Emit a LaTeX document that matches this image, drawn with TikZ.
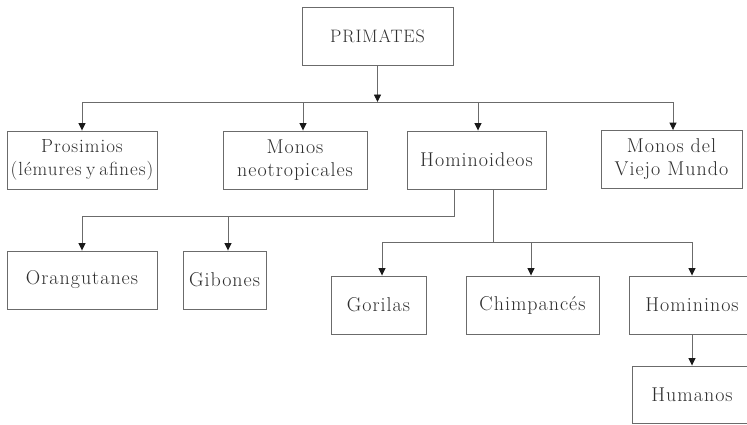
\documentclass[tikz,border=0pt]{standalone}
\usepackage{fontspec}
\setmainfont{Latin Modern Roman}[LetterSpace=5]
\usetikzlibrary{arrows.meta}
\definecolor{linec}{gray}{0.42}
\definecolor{textc}{gray}{0.18}
\definecolor{tipc}{gray}{0.1}
\begin{document}
\begin{tikzpicture}[x=1pt,y=-1pt,
  box/.style={draw=linec, line width=0.9pt, rectangle, inner sep=0pt, align=center,
    text=textc, minimum height=58pt, font=\fontsize{20}{23}\selectfont},
  conn/.style={draw=linec, line width=0.9pt},
  arr/.style={conn, -{Triangle[length=7.5pt,width=7pt,color=tipc]}}]
\useasboundingbox (0,0) rectangle (747,424);
\clip (0,0) rectangle (747,424);
\fill[white] (0,0) rectangle (747,424);

\node[box, minimum width=151pt, font=\fontsize{18}{21}\selectfont] (pri) at (377.5,36) {PRIMATES};
\node[box, minimum width=150pt, font=\fontsize{19}{23}\selectfont] (pro) at (82,160) {Prosimios\\(lémures\hspace{4.5pt}y\hspace{4pt}afines)};
\node[box, minimum width=144pt] (neo) at (295,160) {Monos\\neotropicales};
\node[box, minimum width=139pt] (hom) at (476.5,160) {Hominoideos};
\node[box, minimum width=141pt] (vie) at (671.5,159.5) {Monos del\\Viejo Mundo};
\node[box, minimum width=150pt] (ora) at (82,280) {Orangutanes};
\node[box, minimum width=83pt] (gib) at (224.5,280) {Gibones};
\node[box, minimum width=95pt] (gor) at (378.5,305) {Gorilas};
\node[box, minimum width=133pt] (chi) at (532.5,305) {Chimpancés};
\node[box, minimum width=126pt] (hmn) at (692,305) {Homininos};
\node[box, minimum width=120pt, minimum height=57pt] (hum) at (692,394.5) {Humanos};

\coordinate (b0) at (377.5,102);
\coordinate (bl) at (82,102);
\coordinate (br) at (673,102);
\coordinate (b2) at (303,102);
\coordinate (b3) at (478,102);
\draw[arr] (pri.south) -- (b0);
\draw[conn] (bl) -- (br);
\draw[arr] (bl) -- (pro.north);
\draw[arr] (b2) -- (b2 |- neo.north);
\draw[arr] (b3) -- (b3 |- hom.north);
\draw[arr] (br) -- (br |- vie.north);

\coordinate (h1) at (454,216);
\coordinate (o1) at (82,216);
\coordinate (g1) at (228,216);
\draw[conn] (hom.south -| h1) -- (h1) -- (o1);
\draw[arr] (o1) -- (ora.north);
\draw[arr] (g1) -- (g1 |- gib.north);

\coordinate (h2) at (493,242);
\coordinate (r1) at (382,242);
\coordinate (r2) at (531,242);
\coordinate (r3) at (692,242);
\draw[conn] (hom.south -| h2) -- (h2);
\draw[conn] (r1) -- (r3);
\draw[arr] (r1) -- (r1 |- gor.north);
\draw[arr] (r2) -- (r2 |- chi.north);
\draw[arr] (r3) -- (hmn.north);
\draw[arr] (hmn.south) -- (hum.north);
\end{tikzpicture}
\end{document}
